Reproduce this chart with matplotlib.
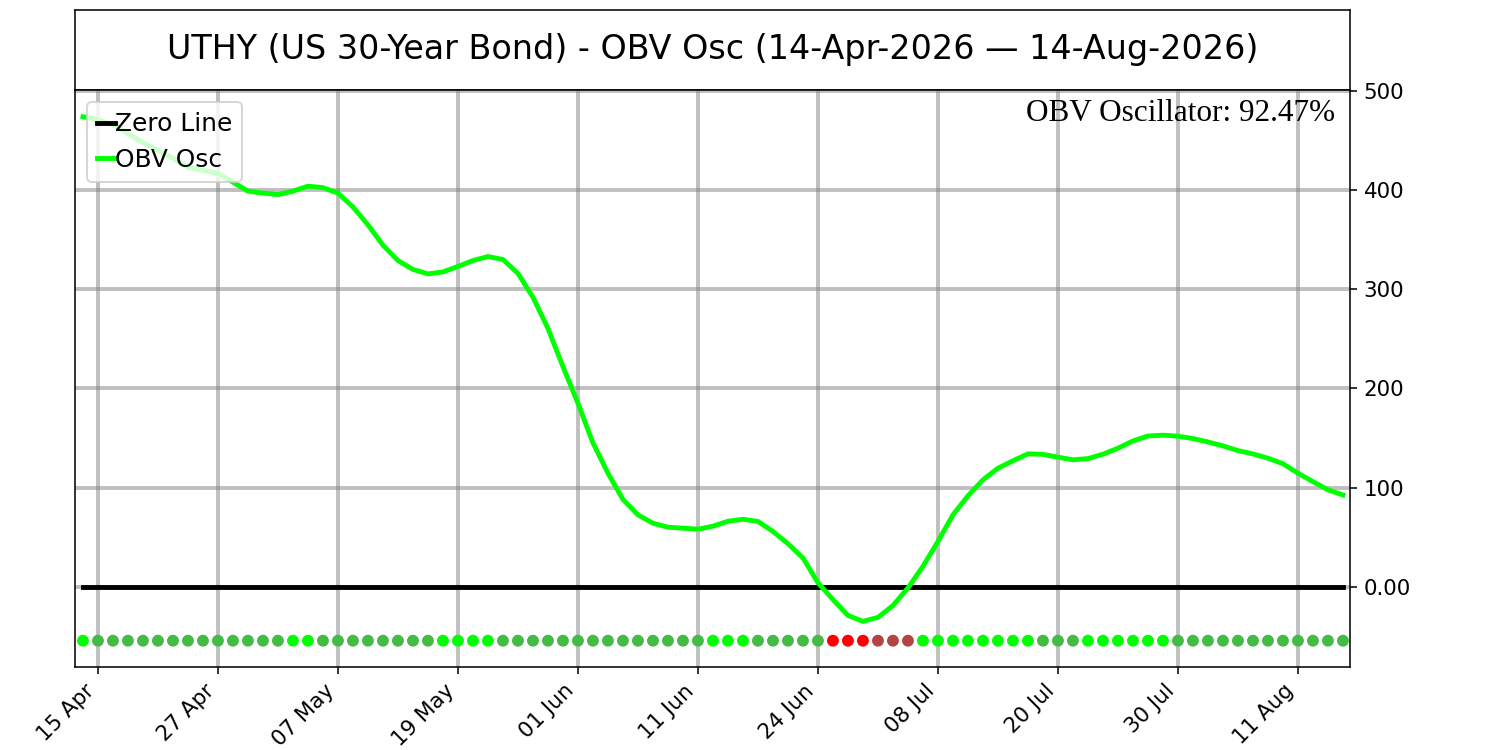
import numpy as np
import matplotlib
matplotlib.use('Agg')
import matplotlib.pyplot as plt
from matplotlib.ticker import FuncFormatter

# OBV oscillator values, one per trading day (14 Apr 2026 .. 14 Aug 2026)
obv_osc = [474, 471, 466, 457, 448, 440, 432, 423, 420, 417,
           408, 399, 397, 395.5, 399, 404, 402.5, 397, 383, 365,
           344.5, 329, 320, 315.5, 317.5, 323, 329, 333, 330, 316,
           292, 260.5, 222, 185, 145, 114.5, 88, 72.5, 64, 60,
           59, 58, 61, 66, 68, 65.8, 55.7, 43.3, 29, 4,
           -13, -29, -35, -31, -19, -1.3, 20.5, 45.6, 72.5, 91.6,
           107.8, 119.5, 127, 134, 133.5, 130.6, 128, 129.2, 133.6, 139.7,
           147, 152, 152.8, 151.8, 149.4, 146, 142, 137.3, 133.9, 129.6,
           124, 114.5, 106, 97.7, 92.47]

# dot state per day: L rising>0, G falling>0, R falling<0, D rising<0
dot_state = ('L' + 'G' * 13 + 'LL' + 'G' * 8 + 'LLLL' + 'G' * 14 + 'LLL'
             + 'G' * 5 + 'RRR' + 'DDD' + 'L' * 8 + 'GGG' + 'L' * 6 + 'G' * 12)

tick_labels = ['15 Apr', '27 Apr', '07 May', '19 May', '01 Jun', '11 Jun',
               '24 Jun', '08 Jul', '20 Jul', '30 Jul', '11 Aug']
tick_pos = list(range(1, 85, 8))

title = 'UTHY (US 30-Year Bond) - OBV Osc (14-Apr-2026 \u2014 14-Aug-2026)'
dot_level = -54.5

state_colors = {'L': '#00ff00', 'G': '#44bb44', 'R': '#ff0000', 'D': '#b44444'}

x = np.arange(len(obv_osc))

fig = plt.figure(figsize=(1500 / 140, 750 / 140), dpi=140)

tax = fig.add_axes([0.05, 0.88, 0.85, 0.1067])
tax.set_xticks([])
tax.set_yticks([])
tax.text(0.5, 0.5, title, ha='center', va='center', fontsize=17.2,
         transform=tax.transAxes)

ax = fig.add_axes([0.05, 0.1107, 0.85, 0.7693])
ax.grid(True, color='gray', alpha=0.5, linewidth=2)
ax.set_axisbelow(True)

ax.plot(x, np.zeros(len(x)), color='black', linewidth=2.5, label='Zero Line')
ax.plot(x, obv_osc, color='#00ff00', linewidth=2.5, label='OBV Osc')
ax.scatter(x, [dot_level] * len(x), c=[state_colors[s] for s in dot_state],
           s=26, zorder=3)

ax.set_xlim(-0.53, 84.47)
ax.set_ylim(-81, 501)
ax.set_xticks(tick_pos)
ax.set_xticklabels(tick_labels, rotation=45, ha='right', fontsize=11)
ax.set_yticks([0, 100, 200, 300, 400, 500])
ax.yaxis.set_major_formatter(FuncFormatter(lambda v, _: '0.00' if v == 0 else '%d' % v))
ax.yaxis.tick_right()
ax.tick_params(axis='y', labelsize=11)

ax.text(0.988, 0.984, 'OBV Oscillator: %.2f%%' % obv_osc[-1], transform=ax.transAxes,
        ha='right', va='top', fontsize=16.1, family='Liberation Serif')

ax.legend(loc='upper left', fontsize=12.8, handlelength=0.7, handletextpad=0.0,
          labelspacing=0.45)

fig.savefig('out.png', dpi=140)
